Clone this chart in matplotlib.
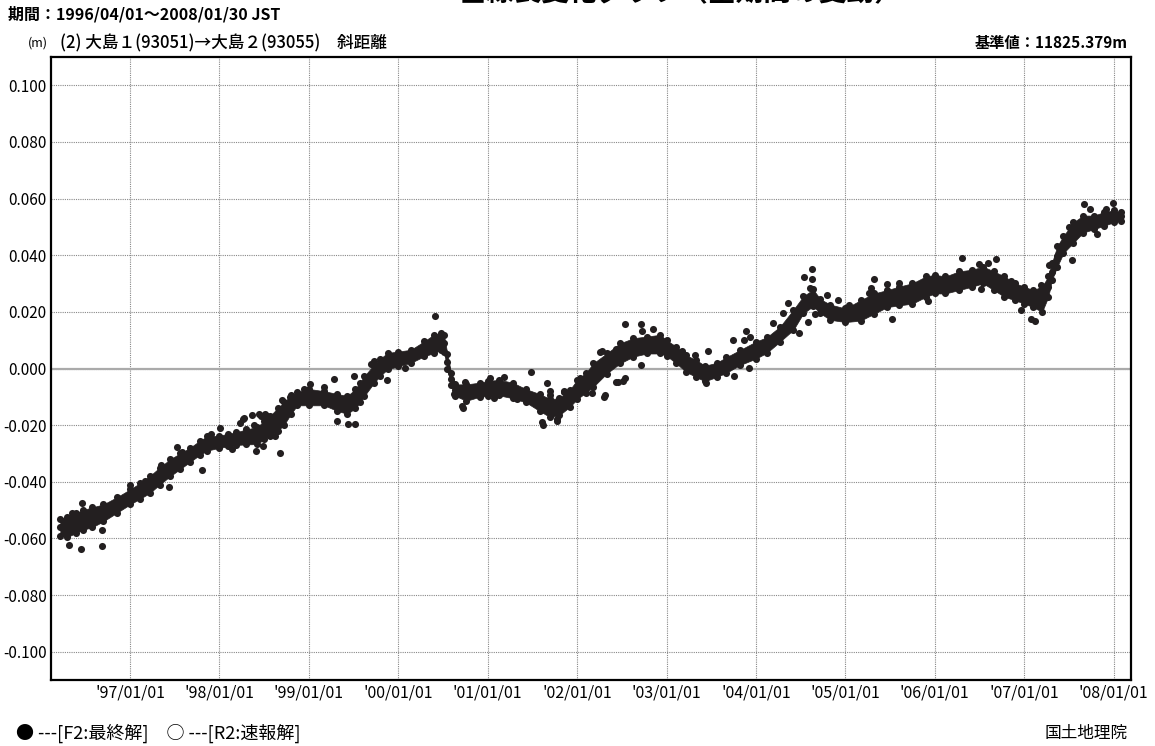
import matplotlib
matplotlib.use("Agg")
import matplotlib.pyplot as plt

plt.rcParams['font.family'] = ['Noto Sans CJK JP', 'DejaVu Sans']

# band of daily solutions (decimal year, lower / upper edge in m)
band_t = [1996.22, 1996.30, 1996.40, 1996.47, 1996.58, 1996.70, 1996.85, 1997.00,
          1997.11, 1997.22, 1997.33, 1997.45, 1997.56, 1997.67, 1997.78, 1997.86,
          1998.00, 1998.10, 1998.19, 1998.30, 1998.42, 1998.50, 1998.57, 1998.65,
          1998.72, 1998.80, 1998.87, 1999.00, 1999.17, 1999.32, 1999.43, 1999.52,
          1999.57, 1999.62, 1999.73, 1999.80, 1999.88, 2000.00, 2000.14, 2000.29,
          2000.40, 2000.48, 2000.51, 2000.55, 2000.59, 2000.64, 2000.76, 2000.91,
          2001.00, 2001.13, 2001.28, 2001.43, 2001.58, 2001.70, 2001.80, 2001.92,
          2002.00, 2002.10, 2002.18, 2002.33, 2002.48, 2002.63, 2002.78, 2002.93,
          2003.00, 2003.11, 2003.22, 2003.33, 2003.43, 2003.56, 2003.67, 2003.82,
          2004.00, 2004.12, 2004.27, 2004.42, 2004.53, 2004.64, 2004.72, 2004.83,
          2005.00, 2005.17, 2005.32, 2005.47, 2005.60, 2005.75, 2005.90, 2006.00,
          2006.12, 2006.27, 2006.42, 2006.54, 2006.66, 2006.78, 2006.90, 2007.00,
          2007.10, 2007.20, 2007.27, 2007.31, 2007.37, 2007.44, 2007.55, 2007.66,
          2007.78, 2007.89, 2008.00, 2008.08]
band_lo = [-0.0590, -0.0595, -0.0580, -0.0570, -0.0560, -0.0540, -0.0510, -0.0480,
           -0.0460, -0.0440, -0.0410, -0.0380, -0.0355, -0.0330, -0.0305, -0.0290,
           -0.0280, -0.0275, -0.0270, -0.0268, -0.0267, -0.0250, -0.0237, -0.0220,
           -0.0200, -0.0160, -0.0130, -0.0130, -0.0130, -0.0150, -0.0160, -0.0140,
           -0.0120, -0.0097, -0.0050, -0.0025, -0.0003, 0.0008, 0.0020, 0.0043,
           0.0055, 0.0066, 0.0060, -0.0003, -0.0060, -0.0097, -0.0114, -0.0100,
           -0.0097, -0.0095, -0.0105, -0.0120, -0.0150, -0.0172, -0.0165, -0.0135,
           -0.0108, -0.0085, -0.0065, -0.0018, 0.0018, 0.0042, 0.0053, 0.0053,
           0.0045, 0.0018, -0.0012, -0.0030, -0.0045, -0.0030, -0.0015, 0.0012,
           0.0035, 0.0055, 0.0095, 0.0137, 0.0195, 0.0220, 0.0195, 0.0172,
           0.0164, 0.0169, 0.0193, 0.0217, 0.0223, 0.0229, 0.0253, 0.0265,
           0.0265, 0.0277, 0.0289, 0.0301, 0.0277, 0.0253, 0.0241, 0.0229,
           0.0217, 0.0200, 0.0253, 0.0313, 0.0360, 0.0408, 0.0444, 0.0480,
           0.0492, 0.0504, 0.0516, 0.0522]
band_hi = [-0.0530, -0.0525, -0.0510, -0.0500, -0.0490, -0.0480, -0.0455, -0.0427,
           -0.0405, -0.0380, -0.0350, -0.0320, -0.0300, -0.0280, -0.0255, -0.0240,
           -0.0237, -0.0230, -0.0225, -0.0215, -0.0207, -0.0185, -0.0166, -0.0140,
           -0.0120, -0.0095, -0.0083, -0.0072, -0.0080, -0.0090, -0.0097, -0.0073,
           -0.0050, -0.0027, 0.0014, 0.0035, 0.0055, 0.0060, 0.0066, 0.0096,
           0.0120, 0.0125, 0.0120, 0.0050, -0.0015, -0.0056, -0.0056, -0.0050,
           -0.0044, -0.0040, -0.0050, -0.0073, -0.0090, -0.0108, -0.0105, -0.0075,
           -0.0040, -0.0015, 0.0018, 0.0053, 0.0089, 0.0107, 0.0113, 0.0119,
           0.0100, 0.0077, 0.0047, 0.0030, 0.0010, 0.0020, 0.0040, 0.0065,
           0.0095, 0.0110, 0.0148, 0.0208, 0.0255, 0.0279, 0.0245, 0.0226,
           0.0212, 0.0241, 0.0265, 0.0277, 0.0289, 0.0301, 0.0325, 0.0331,
           0.0325, 0.0343, 0.0349, 0.0360, 0.0343, 0.0325, 0.0301, 0.0289,
           0.0277, 0.0289, 0.0325, 0.0372, 0.0432, 0.0468, 0.0516, 0.0540,
           0.0540, 0.0552, 0.0558, 0.0552]

# scattered single days away from the band
out_t = [1996.46, 1996.35, 1996.32, 1996.45, 1996.69, 1996.69, 1997.00, 1997.18,
         1997.52, 1997.80, 1998.01, 1998.26, 1998.36, 1998.47, 1998.53, 1998.41,
         1998.68, 1998.70, 1998.79, 1999.01, 1999.17, 1998.95, 1999.28, 1999.31,
         1999.44, 1999.52, 1999.50, 1999.69, 1999.73, 1999.87, 2000.08, 2000.41,
         2000.72, 2001.48, 2001.66, 2001.70, 2001.62, 2001.85, 2001.77, 2002.21,
         2002.26, 2002.54, 2002.72, 2002.73, 2002.85, 2002.28, 2002.44, 2002.71,
         2002.54, 2002.46, 2002.30, 2003.17, 2003.32, 2003.46, 2003.44, 2003.75,
         2003.74, 2003.89, 2003.87, 2003.93, 2003.92, 2004.19, 2004.30, 2004.36,
         2004.48, 2004.58, 2004.54, 2004.63, 2004.63, 2004.60, 2004.66, 2004.80,
         2004.92, 2005.04, 2005.26, 2005.29, 2005.32, 2005.47, 2005.60, 2005.52,
         2005.92, 2006.31, 2006.49, 2006.60, 2006.68, 2006.52, 2006.85, 2007.08,
         2007.12, 2006.96, 2007.28, 2007.19, 2007.50, 2007.53, 2007.67, 2007.74,
         2007.81, 2007.99, 2007.92,
         2000.75, 2001.03, 2001.18, 2000.71, 2000.62, 2001.07, 2001.33, 2001.52,
         2001.70, 2001.85, 2001.77, 2001.61, 2002.03, 2002.17, 2002.31, 2002.44,
         2002.51, 2002.22, 2002.29,
         1997.58, 1997.35, 1997.17, 1997.44, 1997.90, 1998.14, 1998.23, 1998.27,
         1998.44, 1998.51, 1998.49, 1998.62, 1998.39]
out_v = [-0.0476, -0.0510, -0.0623, -0.0637, -0.0628, -0.0572, -0.0411, -0.0400,
         -0.0276, -0.0357, -0.0210, -0.0180, -0.0163, -0.0167, -0.0167, -0.0290,
         -0.0298, -0.0113, -0.0099, -0.0054, -0.0066, -0.0072, -0.0037, -0.0184,
         -0.0195, -0.0195, -0.0028, 0.0016, 0.0026, -0.0039, 0.0002, 0.0184,
         -0.0139, -0.0013, -0.0050, -0.0078, -0.0198, -0.0084, -0.0184, 0.0009,
         0.0058, 0.0158, 0.0158, 0.0132, 0.0138, 0.0061, 0.0068, 0.0011,
         -0.0034, -0.0048, -0.0101, 0.0061, 0.0049, 0.0061, -0.0051, -0.0025,
         0.0099, 0.0132, 0.0101, 0.0113, 0.0002, 0.0160, 0.0195, 0.0232,
         0.0125, 0.0164, 0.0323, 0.0352, 0.0317, 0.0284, 0.0193, 0.0260,
         0.0243, 0.0225, 0.0265, 0.0283, 0.0315, 0.0297, 0.0303, 0.0175,
         0.0238, 0.0390, 0.0370, 0.0372, 0.0388, 0.0279, 0.0310, 0.0175,
         0.0169, 0.0205, 0.0366, 0.0295, 0.0498, 0.0384, 0.0582, 0.0564,
         0.0474, 0.0586, 0.0564,
         -0.0048, -0.0033, -0.0029, -0.0132, -0.0091, -0.0103, -0.0109, -0.0120,
         -0.0095, -0.0080, -0.0179, -0.0190, -0.0033, -0.0085, -0.0095, -0.0048,
         -0.0044, 0.0014, 0.0002,
         -0.0296, -0.0340, -0.0396, -0.0420, -0.0232, -0.0286, -0.0193, -0.0175,
         -0.0160, -0.0160, -0.0274, -0.0238, -0.0200]

year_ticks = list(range(1997, 2009))
year_labels = ["'%02d/01/01" % (y % 100) for y in year_ticks]
y_ticks = [-0.10, -0.08, -0.06, -0.04, -0.02, 0.0, 0.02, 0.04, 0.06, 0.08, 0.10]

W, H = 1155, 746
fig = plt.figure(figsize=(W / 100, H / 100), dpi=100)
ax = fig.add_axes([51 / W, 1 - 680 / H, (1131 - 51) / W, (680 - 57) / H])

dot = '#231f20'
band_mid = [(a + b) / 2 for a, b in zip(band_lo, band_hi)]
ax.fill_between(band_t, band_lo, band_hi, color=dot, lw=0.5, edgecolor=dot, zorder=3)
for series in (band_lo, band_mid, band_hi):
    ax.scatter(band_t, series, s=26, color=dot, lw=0, zorder=4)
ax.scatter(out_t, out_v, s=26, color=dot, lw=0, zorder=4)

ax.set_xlim(1996.116, 2008.195)
ax.set_ylim(-0.11, 0.11)
ax.set_xticks(year_ticks)
ax.set_xticklabels(year_labels, fontsize=11.5)
ax.set_yticks(y_ticks)
ax.set_yticklabels(['%.3f' % v for v in y_ticks], fontsize=11)
ax.tick_params(length=0, pad=3)

ax.grid(True, color='#888888', ls=(0, (1, 1)), lw=0.8)
ax.axhline(0, color='#aaaaaa', lw=1.6, zorder=2)
for sp in ax.spines.values():
    sp.set_linewidth(1.6)
    sp.set_color('black')

fig.text(680 / W, 1 - 6 / H, '基線長変化グラフ（全期間の変動）', fontsize=20,
         ha='center', va='bottom', fontweight='bold')
fig.text(8 / W, 1 - 14 / H, '期間：1996/04/01～2008/01/30 JST', fontsize=11.5,
         ha='left', va='center', fontweight='bold')
fig.text(28 / W, 1 - 43 / H, '(m)', fontsize=9, ha='left', va='center')
fig.text(60 / W, 1 - 43 / H, '(2) 大島１(93051)→大島２(93055)　斜距離', fontsize=12,
         ha='left', va='center', fontweight='medium')
fig.text(1128 / W, 1 - 43 / H, '基準値：11825.379m', fontsize=11,
         ha='right', va='center', fontweight='bold')
fig.text(16 / W, 1 - 733 / H, '● ---[F2:最終解]　○ ---[R2:速報解]', fontsize=13,
         ha='left', va='center')
fig.text(1128 / W, 1 - 733 / H, '国土地理院', fontsize=12, ha='right', va='center')

fig.savefig('out.png', dpi=100)
